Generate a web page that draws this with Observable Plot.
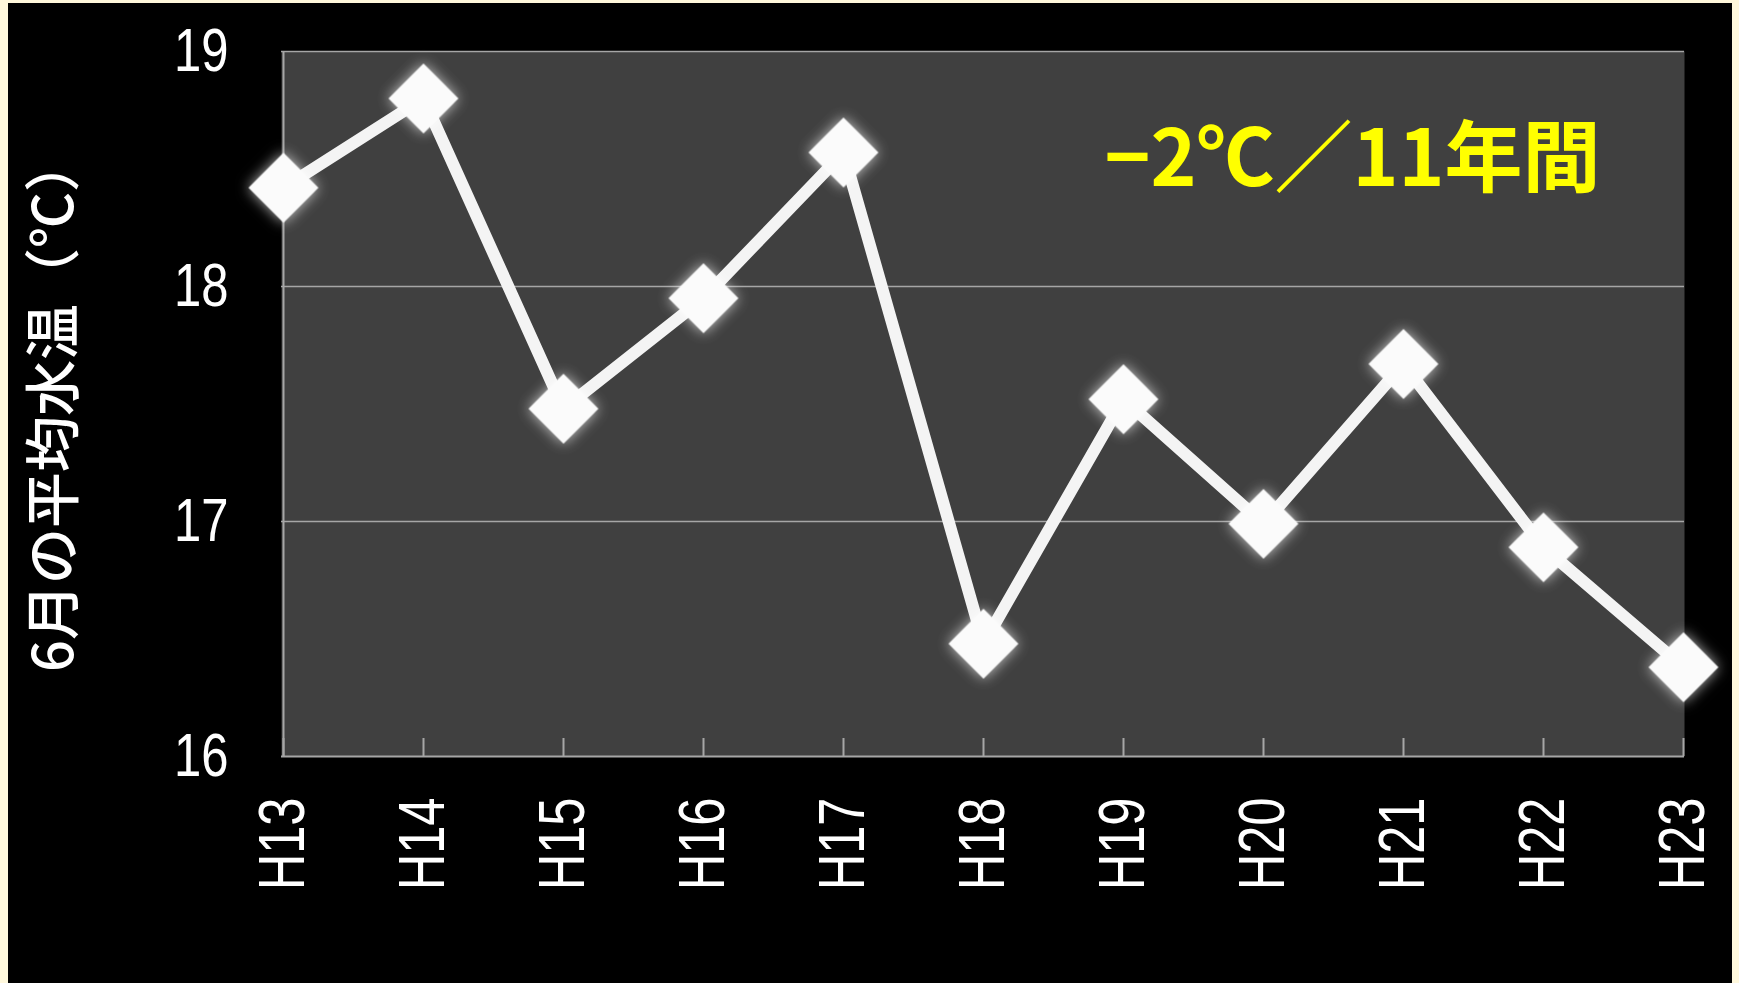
<!DOCTYPE html>
<html>
<head>
<meta charset="utf-8">
<script src="https://cdn.jsdelivr.net/npm/d3@7"></script>
<script src="https://cdn.jsdelivr.net/npm/@observablehq/plot@0.6"></script>
<style>
  html, body { margin: 0; padding: 0; background: #fff8dc; width: 1739px; height: 983px; overflow: hidden; }
  #frame { position: absolute; left: 8px; top: 3px; width: 1724px; height: 980px; background: #000; }
  #chart { position: absolute; left: 0; top: 0; }
</style>
</head>
<body>
<div id="frame"></div>
<div id="chart"></div>
<script>
const years = ["H13","H14","H15","H16","H17","H18","H19","H20","H21","H22","H23"];
const temps = [18.42, 18.80, 17.48, 17.95, 18.57, 16.48, 17.52, 16.99, 17.67, 16.89, 16.38];
const yTicks = [16, 17, 18, 19];
const gridValues = [17, 18, 19];
const yTitle = "6月の平均水温（℃）";
const note = "−2℃／11年間";

const data = years.map((y, i) => ({year: y, temp: temps[i]}));
const numFont = "'Liberation Sans', Arial, sans-serif";
const jpFont = "'Noto Sans CJK JP', 'Noto Sans', sans-serif";

const chart = Plot.plot({
  width: 1739,
  height: 983,
  marginLeft: 281,
  marginRight: 55,
  marginTop: 51,
  marginBottom: 227,
  style: {background: "transparent", overflow: "visible"},
  x: {type: "point", domain: years, padding: 0},
  y: {domain: [16, 19]},
  marks: [
    Plot.frame({fill: "#404040", stroke: null}),
    Plot.ruleY(gridValues, {stroke: "#a6a6a6", strokeWidth: 1.5}),
    Plot.ruleY([yTicks[0]], {stroke: "#a6a6a6", strokeWidth: 2}),
    Plot.ruleX([years[0]], {stroke: "#a6a6a6", strokeWidth: 2}),
    Plot.ruleX(years, {stroke: "#a6a6a6", strokeWidth: 2, insetTop: 687}),
    Plot.axisY(yTicks, {tickSize: 0, tickPadding: 53, fontSize: 62, fill: "#fff", fontFamily: numFont, label: null, tickFormat: d => String(d), className: "numtick"}),
    Plot.axisX({tickSize: 0, tickPadding: 41, tickRotate: -90, fontSize: 64, fill: "#fff", fontFamily: numFont, label: null, className: "numtick"}),
    Plot.text([yTitle], {frameAnchor: "left", textAnchor: "middle", rotate: -90, dx: -226, dy: 0, fontSize: 56, fill: "#fff", fontFamily: jpFont, fontWeight: 500}),
    Plot.text([note], {frameAnchor: "top-right", textAnchor: "end", lineAnchor: "middle", dx: -84, dy: 110, fontSize: 78, fill: "#ffff00", fontFamily: jpFont, fontWeight: "bold"}),
    Plot.line(data, {x: "year", y: "temp", stroke: "#f4f4f4", strokeWidth: 12, strokeLinejoin: "round"}),
    Plot.dot(data, {x: "year", y: "temp", symbol: "diamond2", r: 31.5, fill: "#fbfbfb", stroke: null, className: "markers"})
  ]
});

document.getElementById("chart").appendChild(chart);

// condensed look for the numeric tick labels (narrow Gothic face in the original)
d3.select(chart).selectAll(".numtick text").each(function() {
  const len = this.getComputedTextLength();
  this.setAttribute("textLength", (len * 0.79).toFixed(1));
  this.setAttribute("lengthAdjust", "spacingAndGlyphs");
});

// glow filter for markers
const svg = d3.select(chart);
const defs = svg.insert("defs", ":first-child");
const f = defs.append("filter").attr("id", "glow").attr("x", "-50%").attr("y", "-50%").attr("width", "200%").attr("height", "200%");
f.append("feGaussianBlur").attr("in", "SourceAlpha").attr("stdDeviation", 7).attr("result", "blur");
f.append("feFlood").attr("flood-color", "#ffffff").attr("flood-opacity", 0.7).attr("result", "col");
f.append("feComposite").attr("in", "col").attr("in2", "blur").attr("operator", "in").attr("result", "glow");
const m = f.append("feMerge");
m.append("feMergeNode").attr("in", "glow");
m.append("feMergeNode").attr("in", "SourceGraphic");
svg.selectAll(".markers").attr("filter", "url(#glow)");
</script>
</body>
</html>
